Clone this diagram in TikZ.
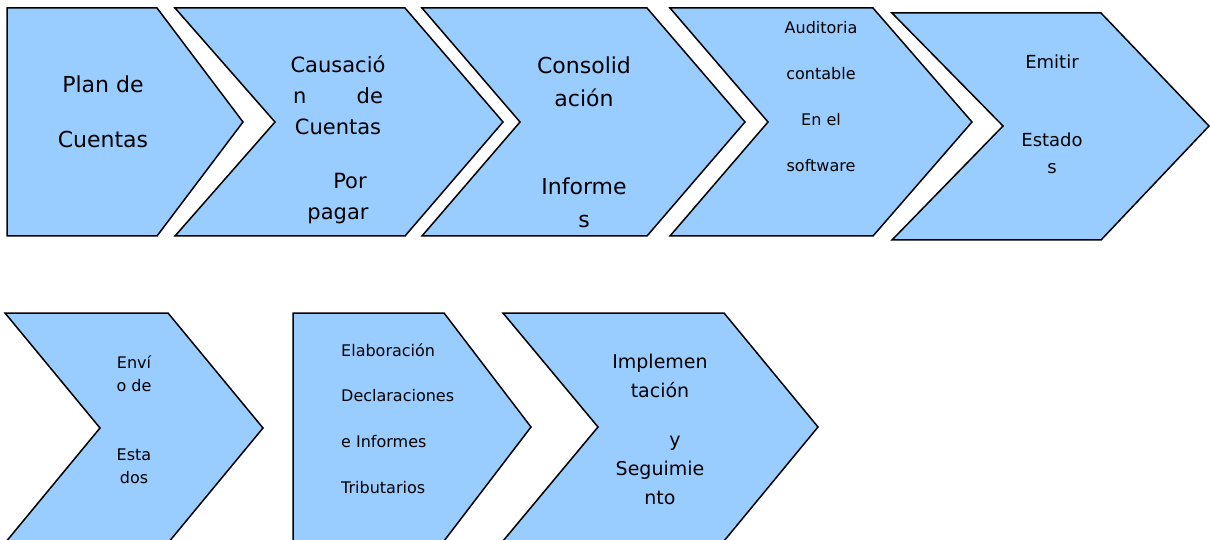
\documentclass[tikz,border=0pt]{standalone}
\usepackage{fontspec}
\setmainfont{DejaVu Sans}
\definecolor{stepBlue}{HTML}{99CCFF}

\begin{document}
\begin{tikzpicture}[x=1pt, y=-1pt,
                    chev/.style={draw=black, fill=stepBlue, line width=1.5pt, line join=miter},
                    lbl/.style={align=center, inner sep=0pt, text=black}
                ]
    \clip (0,0) rectangle (1210,540);

    % first row
    \draw[chev] (7,8) -- (157,8) -- (243,122) -- (157,236) -- (7,236) -- cycle;
    \draw[chev] (175,8) -- (405,8) -- (503,122) -- (405,236) -- (175,236) -- (275,122) -- cycle;
    \draw[chev] (422,8) -- (647,8) -- (745,122) -- (647,236) -- (422,236) -- (520,122) -- cycle;
    \draw[chev] (670,8) -- (873,8) -- (972,122) -- (873,236) -- (670,236) -- (768,122) -- cycle;
    \draw[chev] (892,13) -- (1101,13) -- (1209,126) -- (1101,240) -- (892,240) -- (1003,126) -- cycle;

    \node[lbl, font=\fontsize{22}{55}\selectfont] (plan) at (103,111.5) {Plan de\\Cuentas};
    \node[lbl, font=\fontsize{21}{31}\selectfont] (causacion) at (338,140)
        {Causació\\\hbox to 90pt{n\hfill de}\\Cuentas\\[23pt]\hspace*{24pt}Por\\pagar};
    \node[lbl, font=\fontsize{22}{33}\selectfont] (consolidacion) at (584,142)
        {Consolid\\ación\\[55pt]Informe\\s};
    \node[lbl, font=\fontsize{16}{45.7}\selectfont] (auditoria) at (821,96.5)
        {Auditoria\\contable\\En el\\software};
    \node[lbl, font=\fontsize{18}{27}\selectfont] (emitir) at (1052,114.5)
        {Emitir\\[51pt]Estado\\s};

    % second row
    \draw[chev] (5,313) -- (168,313) -- (263,428) -- (168,543) -- (5,543) -- (100,428) -- cycle;
    \draw[chev] (293,313) -- (444,313) -- (531,427) -- (444,541) -- (293,541) -- cycle;
    \draw[chev] (503,313) -- (724,313) -- (818,427) -- (724,541) -- (503,541) -- (598,427) -- cycle;

    \node[lbl, font=\fontsize{16}{22.5}\selectfont] (envio) at (134,419.5)
        {Enví\\o de\\[47pt]Esta\\dos};
    \node[lbl, align=left, anchor=west, font=\fontsize{16}{45.7}\selectfont] (tributarios) at (341,418.5)
        {Elaboración\\Declaraciones\\e Informes\\Tributarios};
    \node[lbl, font=\fontsize{19}{29}\selectfont] (implementacion) at (660,429.5)
        {Implemen\\tación\\[20pt]\hspace*{30pt}y\\Seguimie\\nto};
\end{tikzpicture}
\end{document}
